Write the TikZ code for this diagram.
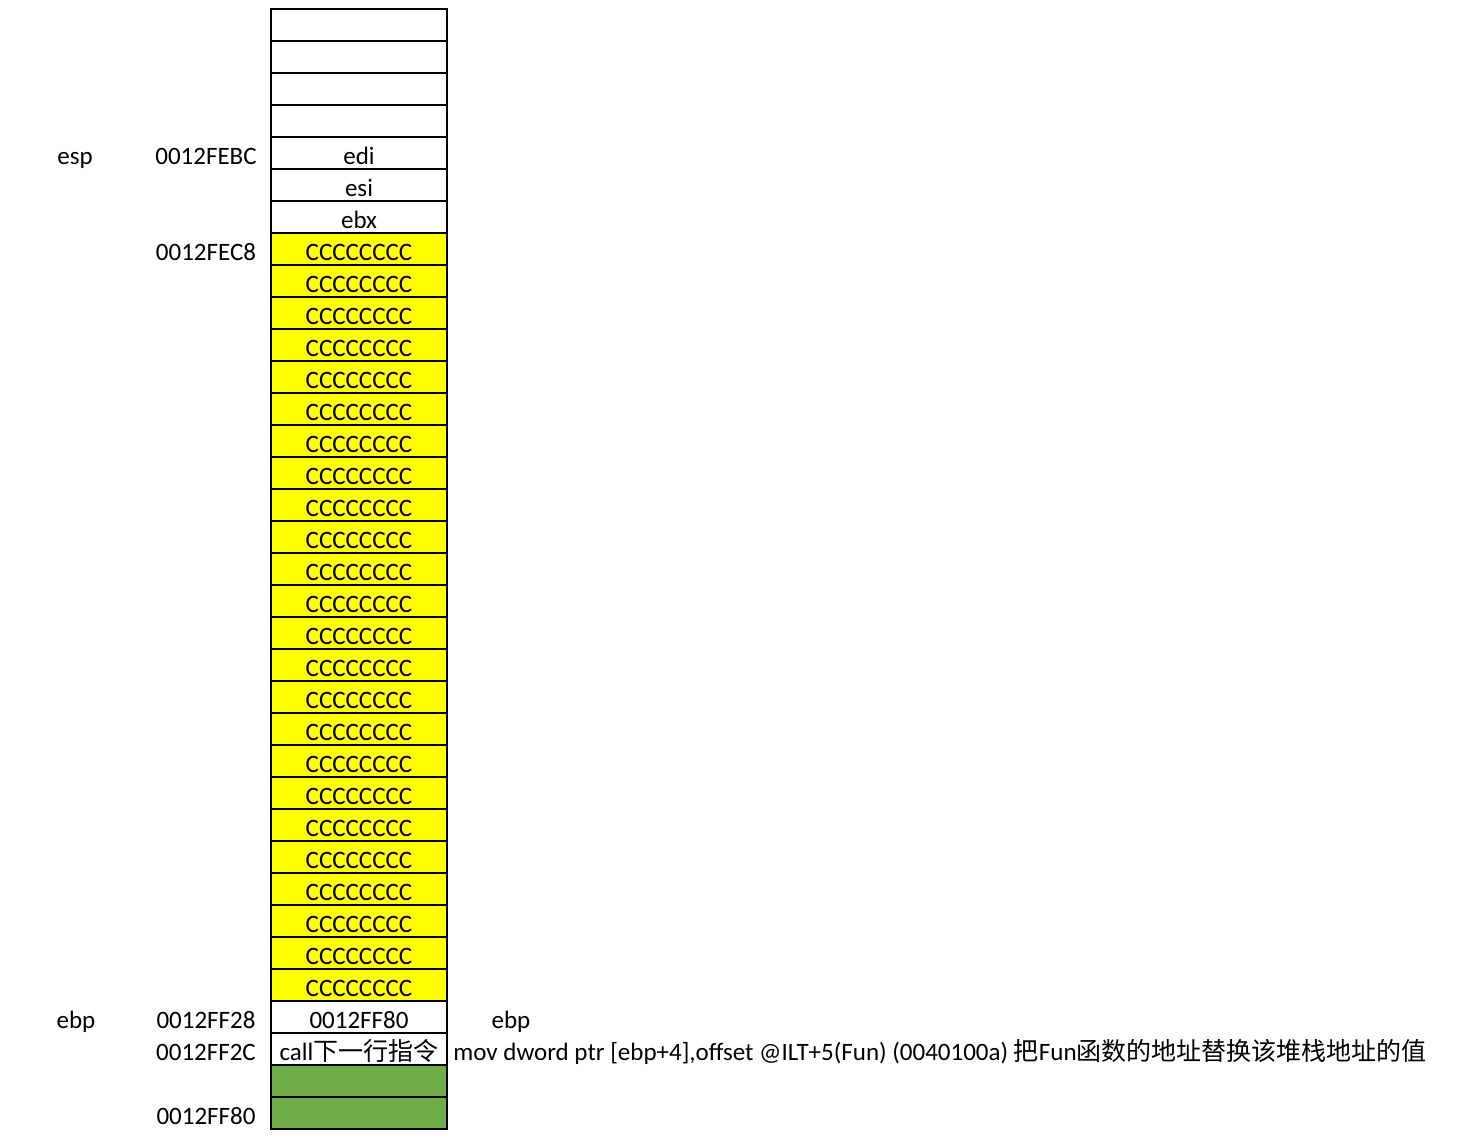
\documentclass[tikz,border=0pt]{standalone}
\usepackage{fontspec}
\setmainfont{Carlito}
\newfontfamily\cjk{Noto Sans CJK SC}
\usetikzlibrary{positioning}
\definecolor{fillYellow}{HTML}{FFFF00}
\definecolor{fillGreen}{HTML}{70AD47}

\begin{document}
\begin{tikzpicture}[
  x=0.5pt,y=-0.5pt,
  txt/.style={font=\fontsize{12.5}{14}\selectfont,inner sep=0pt},
  lbl/.style={txt,anchor=base,yshift=-5.5pt},
  cell/.style={txt,draw=black,line width=1pt,fill=white,
    minimum width=88pt,minimum height=16pt,text height=13.5pt,text depth=2.5pt},
  fillcell/.style={cell,fill=fillYellow},
  greencell/.style={cell,fill=fillGreen}
]
  \useasboundingbox (0,0) rectangle (1468,1142);

  % empty rows and saved registers
  \foreach \i in {0,...,3}
    \node[cell] (c\i) at (359,25+32*\i) {};
  \node[cell] (c4) at (359,153) {edi};
  \node[cell] (c5) at (359,185) {esi};
  \node[cell] (c6) at (359,217) {ebx};

  % local area filled with 0xCC
  \foreach \i in {7,...,30}
    \node[fillcell] (c\i) at (359,25+32*\i) {CCCCCCCC};

  \node[cell] (c31) at (359,1017) {0012FF80};
  \node[cell] (c32) at (359,1049) {call{\cjk 下一行指令}};
  \node[greencell] (c33) at (359,1081) {};
  \node[greencell] (c34) at (359,1113) {};

  % addresses and registers
  \node[lbl] (esp) at (75,153) {esp};
  \node[lbl] (aEBC) at (206,153) {0012FEBC};
  \node[lbl] (aEC8) at (206,249) {0012FEC8};
  \node[lbl] (ebpL) at (76,1017) {ebp};
  \node[lbl] (aF28) at (206,1017) {0012FF28};
  \node[lbl] (aF2C) at (206,1049) {0012FF2C};
  \node[lbl] (aF80) at (206,1113) {0012FF80};

  \node[lbl] (ebpR) at (511,1017) {ebp};
  \node[lbl,anchor=base west] (note) at (453,1049)
    {mov dword ptr [ebp+4],offset @ILT+5(Fun) (0040100a) {\cjk 把}Fun{\cjk 函数的地址替换该堆栈地址的值}};
\end{tikzpicture}
\end{document}
